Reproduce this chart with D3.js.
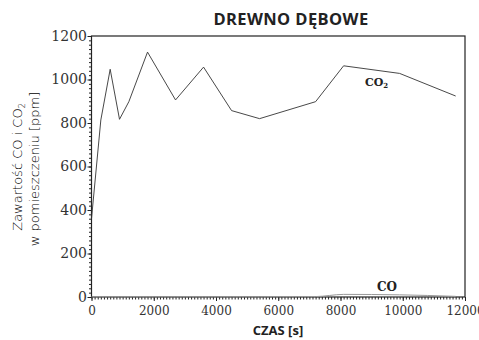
<!DOCTYPE html>
<html><head><meta charset="utf-8">
<script src="https://cdn.jsdelivr.net/npm/d3@7"></script>
<style>body{margin:0;background:#fff}svg{display:block}</style>
</head><body>
<svg id="c" width="479" height="340"></svg>
<script>
const title = "DREWNO DĘBOWE";
const xLabel = "CZAS [s]";
const yLabel1 = "Zawartość CO i CO";
const yLabel2 = "w pomieszczeniu [ppm]";
const timeS = [0, 300, 600, 900, 1200, 1800, 2700, 3600, 4500, 5400, 7200, 8100, 9900, 11700];
const co2 = [360, 814, 1047, 817, 898, 1126, 906, 1057, 857, 820, 898, 1063, 1028, 924];
const co  = [1, 1, 1, 1, 1, 1, 1, 1, 1, 1, 2, 12, 10, 3];
const xTicks = [0, 2000, 4000, 6000, 8000, 10000, 12000];
const yTicks = [0, 200, 400, 600, 800, 1000, 1200];

const svg = d3.select("#c");
const L = 91.5, R = 465, T = 36, B = 297;
const x = d3.scaleLinear().domain([0, 12000]).range([L, R]);
const y = d3.scaleLinear().domain([0, 1200]).range([B, T]);
const ink = "#222";
const fmt = d3.format("d");

// minor ticks
svg.append("g").attr("transform", `translate(${L},0)`)
  .call(d3.axisLeft(y).tickValues(d3.range(0, 1201, 20)).tickSize(2.5).tickFormat(""))
  .call(g => g.select(".domain").remove())
  .selectAll("line").attr("stroke", ink);
svg.append("g").attr("transform", `translate(0,${B})`)
  .call(d3.axisBottom(x).tickValues(d3.range(0, 12001, 100)).tickSize(2.5).tickFormat(""))
  .call(g => g.select(".domain").remove())
  .selectAll("line").attr("stroke", ink);

// major ticks + labels
const ya = svg.append("g").attr("transform", `translate(${L},0)`)
  .call(d3.axisLeft(y).tickValues(yTicks).tickSize(4).tickPadding(0.5).tickFormat(fmt));
ya.attr("font-family", null).attr("font-size", null);
ya.select(".domain").remove();
ya.selectAll("line").attr("stroke", ink);
ya.selectAll("text").style("font-family", "'DejaVu Serif', 'Liberation Serif', serif").style("font-size", "14px").attr("fill", "#333").attr("dy", "0.3em");

const xa = svg.append("g").attr("transform", `translate(0,${B})`)
  .call(d3.axisBottom(x).tickValues(xTicks).tickSize(4).tickPadding(5).tickFormat(fmt));
xa.attr("font-family", null).attr("font-size", null);
xa.select(".domain").remove();
xa.selectAll("line").attr("stroke", ink);
xa.selectAll("text").style("font-family", "'DejaVu Serif', 'Liberation Serif', serif").style("font-size", "12px").attr("fill", "#333");

// frame
svg.append("rect").attr("x", L).attr("y", T).attr("width", R - L).attr("height", B - T)
  .attr("fill", "none").attr("stroke", ink).attr("stroke-width", 1.2);

const line = d3.line().x((d, i) => x(timeS[i])).y(d => y(d));
const lineS = d3.line().x((d, i) => x(timeS[i])).y(d => y(d)).curve(d3.curveMonotoneX);
svg.append("path").attr("d", lineS(co)).attr("fill", "none").attr("stroke", "#999").attr("stroke-width", 1);
svg.append("path").attr("d", line(co2)).attr("fill", "none").attr("stroke", "#333").attr("stroke-width", 0.9);

// title
svg.append("text").attr("x", 291).attr("y", 25).attr("text-anchor", "middle")
  .style("font-family", "'Open Sans'").attr("font-weight", "bold").attr("font-size", 16.5)
  .attr("letter-spacing", 0.4).attr("fill", "#222").text(title);
// x label
svg.append("text").attr("x", 278).attr("y", 335).attr("text-anchor", "middle")
  .style("font-family", "'Open Sans'").attr("font-weight", "bold").attr("font-size", 13).attr("fill", "#222").text(xLabel);
// y label
const yl = svg.append("text").attr("transform", "translate(22,167) rotate(-90)").attr("text-anchor", "middle")
  .style("font-family", "'DejaVu Sans'").attr("font-weight", 200).attr("font-size", 13).attr("fill", "#000");
yl.append("tspan").text(yLabel1);
yl.append("tspan").attr("font-size", 8).attr("dy", 3).text("2");
svg.append("text").attr("transform", "translate(39,169) rotate(-90)").attr("text-anchor", "middle")
  .style("font-family", "'DejaVu Sans'").attr("font-weight", 200).attr("font-size", 13).attr("fill", "#000").text(yLabel2);

// series labels
const c2 = svg.append("text").attr("x", 365).attr("y", 86)
  .style("font-family", "'DejaVu Serif'").attr("font-weight", "bold").attr("font-size", 11).attr("fill", "#222");
c2.append("tspan").text("CO");
c2.append("tspan").attr("font-size", 7).attr("dy", 2).text("2");
svg.append("text").attr("x", 377).attr("y", 291)
  .style("font-family", "'DejaVu Serif'").attr("font-weight", "bold").attr("font-size", 12).attr("fill", "#222").text("CO");
</script>
</body></html>
